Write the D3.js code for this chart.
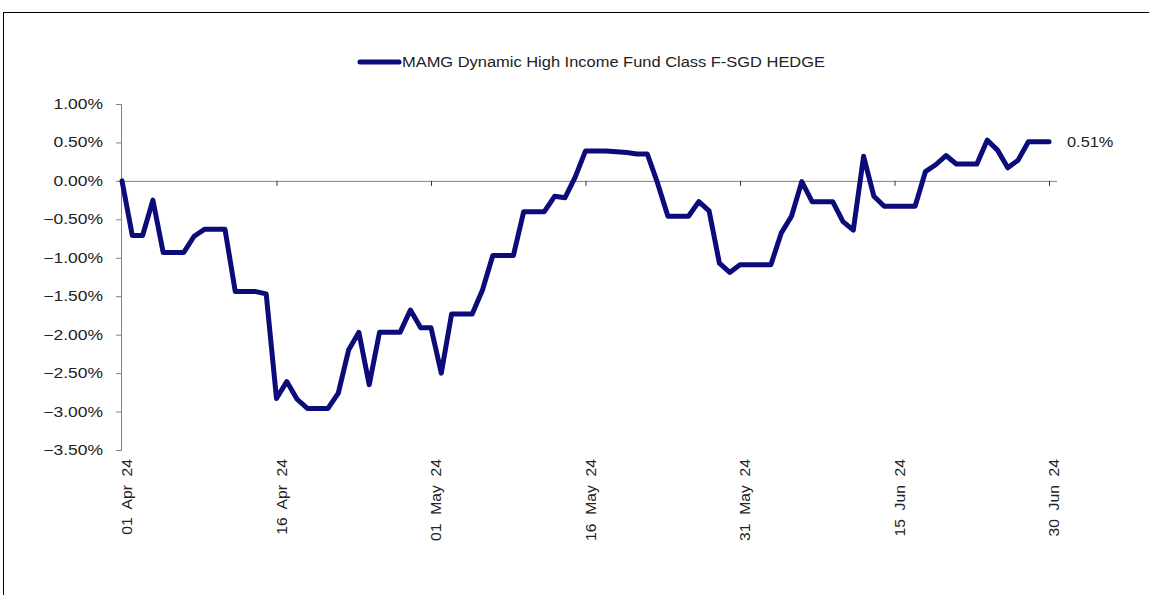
<!DOCTYPE html>
<html><head><meta charset="utf-8">
<script src="https://cdn.jsdelivr.net/npm/d3@7"></script>
<style>
html,body{margin:0;padding:0;background:#fff;}
svg{display:block;font-family:"Liberation Sans",Arial,sans-serif;}
</style></head>
<body>
<svg id="chart" width="1149" height="595"></svg>
<script>
const seriesName = "MAMG Dynamic High Income Fund Class F-SGD HEDGE";
const startDate = "2024-04-01";
const values = [
  0.00, -0.71, -0.71, -0.25, -0.93, -0.93, -0.93, -0.72, -0.63, -0.63,
  -0.63, -1.44, -1.44, -1.44, -1.47, -2.83, -2.61, -2.84, -2.96, -2.96,
  -2.96, -2.76, -2.20, -1.97, -2.65, -1.97, -1.97, -1.97, -1.68, -1.91,
  -1.91, -2.50, -1.73, -1.73, -1.73, -1.42, -0.97, -0.97, -0.97, -0.40,
  -0.40, -0.40, -0.20, -0.22, 0.05, 0.39, 0.39, 0.39, 0.38, 0.37,
  0.35, 0.35, -0.03, -0.46, -0.46, -0.46, -0.27, -0.39, -1.07, -1.19,
  -1.09, -1.09, -1.09, -1.09, -0.68, -0.46, -0.01, -0.27, -0.27, -0.27,
  -0.53, -0.64, 0.32, -0.20, -0.33, -0.33, -0.33, -0.33, 0.12, 0.21,
  0.33, 0.22, 0.22, 0.22, 0.53, 0.40, 0.17, 0.27, 0.51, 0.51,
  0.51
];
const yTicks = [1.0, 0.5, 0.0, -0.5, -1.0, -1.5, -2.0, -2.5, -3.0, -3.5];
const xTickLabels = ["01  Apr  24","16  Apr  24","01  May  24","16  May  24","31  May  24","15  Jun  24","30  Jun  24"];
const xTickDates = ["2024-04-01","2024-04-16","2024-05-01","2024-05-16","2024-05-31","2024-06-15","2024-06-30"];

const parse = d3.timeParse("%Y-%m-%d");
const t0 = parse(startDate);
const data = values.map((v,i)=>({date:d3.timeDay.offset(t0,i), v}));

const svg = d3.select("#chart");
// outer frame
svg.append("rect").attr("x",3.5).attr("y",12.5).attr("width",1160).attr("height",600)
  .attr("fill","none").attr("stroke","#000").attr("stroke-width",1);

const x = d3.scaleTime().domain([parse(xTickDates[0]), parse(xTickDates[xTickDates.length-1])]).range([122, 1049]);
const y = d3.scaleLinear().domain([-3.5, 1.0]).range([450, 104]);

// y axis
const sx = 1.25;
const yAxis = d3.axisLeft(y).tickValues(yTicks).tickSize(5).tickPadding(13)
  .tickFormat(d=>d3.format(".2f")(d)+"%");
const gy = svg.append("g").attr("transform","translate(121,0)").call(yAxis);
gy.select(".domain").attr("stroke","#808080").attr("d","M-5,104.5H0.5V450.5H-5");
gy.selectAll(".tick line").attr("stroke","#808080");
gy.selectAll(".tick text").attr("fill","#222").style("font-size","14px")
  .attr("x", -18/sx)
  .attr("transform", `scale(${sx},1)`)
  .attr("font-family","'Liberation Sans',Arial,sans-serif");

// x axis at zero
const xAxis = d3.axisBottom(x).tickValues(xTickDates.map(parse)).tickSize(5)
  .tickFormat((d,i)=>"");
const gx = svg.append("g").attr("transform",`translate(0,${y(0)})`).call(xAxis);
gx.select(".domain").attr("stroke","#808080").attr("d",`M121,0.5H1057`);
gx.selectAll(".tick line").attr("stroke","#333");

// x tick labels (rotated) placed below plot
const lbl = svg.append("g");
xTickDates.forEach((d,i)=>{
  lbl.append("text")
    .attr("transform",`translate(${x(parse(d))+10},459) rotate(-90) scale(1.12,1)`)
    .attr("text-anchor","end")
    .attr("fill","#222")
    .style("font-size","14px")
    .style("white-space","pre")
    .attr("font-family","'Liberation Sans',Arial,sans-serif")
    .text(xTickLabels[i]);
});

// line
const line = d3.line().x(d=>x(d.date)).y(d=>y(d.v));
svg.append("path").datum(data).attr("d",line)
  .attr("fill","none").attr("stroke","#0b0b7a").attr("stroke-width",5)
  .attr("stroke-linejoin","round").attr("stroke-linecap","round");

// last value label
const last = data[data.length-1];
svg.append("text")
  .attr("transform",`translate(1067,${y(last.v)+5}) scale(1.17,1)`)
  .attr("fill","#222").style("font-size","14px")
  .text(d3.format(".2f")(last.v)+"%");

// legend
svg.append("line").attr("x1",360).attr("x2",399).attr("y1",62).attr("y2",62)
  .attr("stroke","#0b0b7a").attr("stroke-width",5).attr("stroke-linecap","round");
svg.append("text").attr("x",402).attr("y",67).attr("fill","#222")
  .style("font-size","14px").attr("textLength",423).attr("lengthAdjust","spacingAndGlyphs")
  .text(seriesName);
</script>
</body></html>
